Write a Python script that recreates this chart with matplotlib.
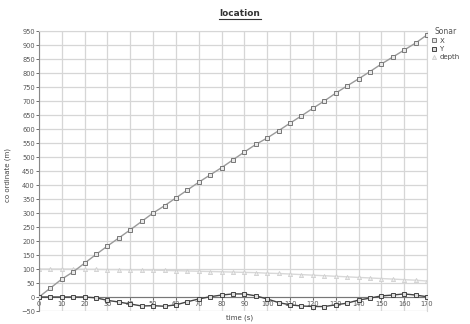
import numpy as np
import matplotlib
matplotlib.use('Agg')
from matplotlib import pyplot as plt
from matplotlib.lines import Line2D

# time axis (s), markers every 5 s
time_s = list(range(0, 171, 5))

x_pos = [0, 32, 64, 90, 121, 152, 182, 211, 240, 270, 300, 326, 354, 382, 410,
         436, 462, 490, 518, 545, 568, 594, 621, 647, 674, 700, 728, 754, 779,
         805, 832, 857, 882, 907, 936]
y_pos = [0, 0, 0, 0, 0, -3, -12, -18, -25, -32, -31, -33, -28, -17, -7,
         1, 7, 11, 11, 4, -7, -20, -28, -32, -34, -34, -28, -22, -11,
         -4, 4, 7, 11, 7, 1]
depth = [100, 100, 100, 100, 99, 99, 98, 98, 97, 97, 96, 95, 94, 93, 92,
         91, 90, 89, 88, 87, 85, 84, 82, 80, 78, 76, 74, 72, 70,
         68, 66, 64, 62, 60, 57]

x_ticks = list(range(0, 171, 10))
y_ticks = list(range(-50, 951, 50))

fig = plt.figure(figsize=(4.7, 3.24), dpi=100)
ax = fig.add_axes([39/470, 1-311/324, (427-39)/470, (311-31)/324])

ax.plot(time_s, x_pos, color='#9a9a9a', lw=1, marker='s', ms=3.2,
        mfc='#e8e8e8', mec='#777777', mew=0.7, label='X', zorder=3)
ax.plot(time_s, y_pos, color='#444444', lw=1, marker='s', ms=3.2,
        mfc='#dddddd', mec='#444444', mew=0.7, label='Y', zorder=4)
ax.plot(time_s, depth, color='#d8d8d8', lw=1, marker='^', ms=3,
        mfc='#eeeeee', mec='#cfcfcf', mew=0.6, label='depth', zorder=2)

ax.set_xlim(0, 170)
ax.set_ylim(-50, 950)
ax.set_xticks(x_ticks)
ax.set_yticks(y_ticks)
ax.grid(True, color='#d6d6d6', lw=0.9)
ax.set_axisbelow(True)

ax.spines['bottom'].set_position(('data', 0))
ax.spines['bottom'].set_color('#777777')
ax.spines['left'].set_color('#888888')
ax.spines['top'].set_color('#d6d6d6')
ax.spines['right'].set_color('#d6d6d6')
ax.tick_params(axis='both', labelsize=4.8, colors='#555555', length=2, width=0.6, pad=1)

# title with underline
fig.text(240/470, 1-14/324, 'location', fontsize=6.5, ha='center', va='center',
         fontweight='bold', color='#333333')
fig.add_artist(Line2D([219/470, 261/470], [1-19/324, 1-19/324],
                      color='#333333', lw=0.8))
fig.text(240/470, 1-318/324, 'time (s)', fontsize=5, ha='center', va='center',
         color='#444444')
fig.text(8/470, 1-175/324, 'co ordinate (m)', fontsize=5, ha='center',
         va='center', rotation=90, color='#444444')

leg = ax.legend(loc='upper left', bbox_to_anchor=(1.0, 1.03), title='Sonar',
                fontsize=5, title_fontsize=5.5, frameon=False,
                handlelength=0.8, handletextpad=0.4, labelspacing=0.3,
                borderaxespad=0.2)
for h in leg.get_lines():
    h.set_linestyle('none')
plt.setp(leg.get_texts(), color='#444444')
leg.get_title().set_color('#555555')

fig.savefig('out.png', dpi=100)
